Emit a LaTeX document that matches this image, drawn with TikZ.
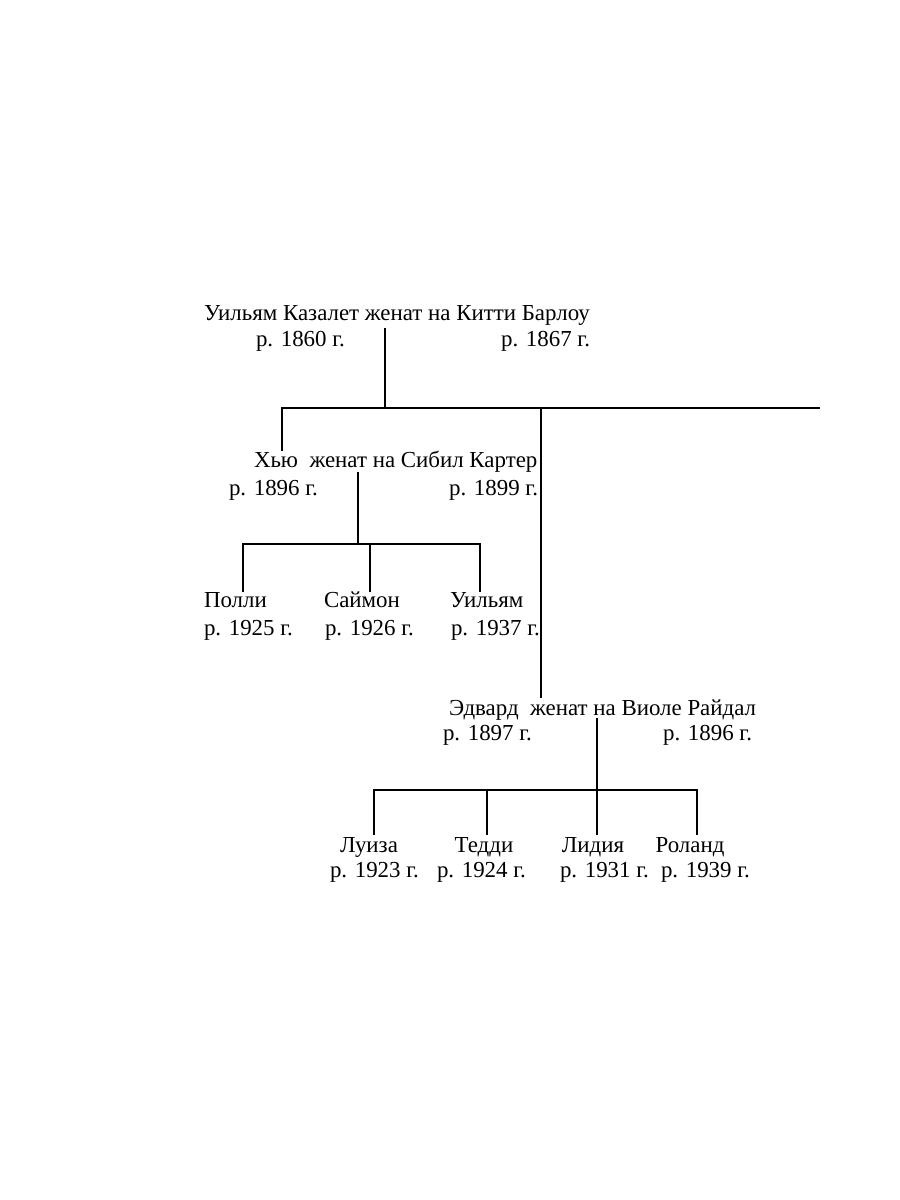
\documentclass[tikz,border=0pt]{standalone}
\usepackage{fontspec}
\setmainfont{Liberation Serif}
\begin{document}
\begin{tikzpicture}[x=1pt,y=-1pt,
  txt/.style={inner sep=0pt,outer sep=0pt,font=\fontsize{22.9}{26}\selectfont},
  ln/.style={line width=2.6pt}]
\useasboundingbox (0,0) rectangle (900,1200);
% generation 1
\node[txt,anchor=base west] (g1) at (204,320) {Уильям Казалет женат на Китти Барлоу};
\node[txt,anchor=base west] (g1a) at (256,346) {р. 1860 г.};
\node[txt,anchor=base east] (g1b) at (590,346) {р. 1867 г.};
\coordinate (g1d) at (385,328);
\coordinate (j1) at (385,408);
\coordinate (jl) at (282,408);
\coordinate (jm) at (541,408);
\coordinate (jr) at (820,408);
% generation 2 Hugh
\node[txt,anchor=base west] (h) at (254,467) {Хью\ \ женат на Сибил Картер};
\node[txt,anchor=base west] (ha) at (229,495) {р. 1896 г.};
\node[txt,anchor=base east] (hb) at (538,495) {р. 1899 г.};
\coordinate (hu) at (282,451);
\coordinate (hd) at (358,472);
\coordinate (hj) at (358,544);
\coordinate (hl) at (243,544);
\coordinate (hm) at (370,544);
\coordinate (hr) at (480,544);
\node[txt,anchor=base west] (c1) at (204,607) {Полли};
\node[txt,anchor=base west] (c1a) at (204,635) {р. 1925 г.};
\node[txt,anchor=base west] (c2) at (324,607) {Саймон};
\node[txt,anchor=base west] (c2a) at (325,635) {р. 1926 г.};
\node[txt,anchor=base west] (c3) at (450,607) {Уильям};
\node[txt,anchor=base west] (c3a) at (451,635) {р. 1937 г.};
\coordinate (c1t) at (243,592);
\coordinate (c2t) at (370,592);
\coordinate (c3t) at (480,592);
% generation 2 Edward
\node[txt,anchor=base west] (e) at (449,715) {Эдвард\ \ женат на Виоле Райдал};
\node[txt,anchor=base west] (ea) at (443,740) {р. 1897 г.};
\node[txt,anchor=base east] (eb) at (752,740) {р. 1896 г.};
\coordinate (eu) at (541,698);
\coordinate (ed) at (597,718);
\coordinate (ej) at (597,790);
\coordinate (el) at (374,790);
\coordinate (er) at (697,790);
\coordinate (d1t) at (374,835);
\coordinate (d2t) at (487,835);
\coordinate (d3t) at (597,835);
\coordinate (d4t) at (697,835);
\node[txt,anchor=base] (d1) at (369,852) {Луиза};
\node[txt,anchor=base west] (d1a) at (330,877) {р. 1923 г.};
\node[txt,anchor=base] (d2) at (484,852) {Тедди};
\node[txt,anchor=base west] (d2a) at (437,877) {р. 1924 г.};
\node[txt,anchor=base] (d3) at (593,852) {Лидия};
\node[txt,anchor=base west] (d3a) at (560,877) {р. 1931 г.};
\node[txt,anchor=base] (d4) at (690,852) {Роланд};
\node[txt,anchor=base west] (d4a) at (661,877) {р. 1939 г.};
% connectors
\draw[ln] (g1d) -- (j1);
\draw[ln] (jl|-hu) -- (jl) -- (jr);
\draw[ln] (jm) -- (eu);
\draw[ln] (hd) -- (hj);
\draw[ln] (c1t) -- (hl) -- (hr) -- (c3t);
\draw[ln] (hm) -- (c2t);
\draw[ln] (ed) -- (d3t);
\draw[ln] (d1t) -- (el) -- (er) -- (d4t);
\draw[ln] (d2t|-ej) -- (d2t);
\end{tikzpicture}
\end{document}
